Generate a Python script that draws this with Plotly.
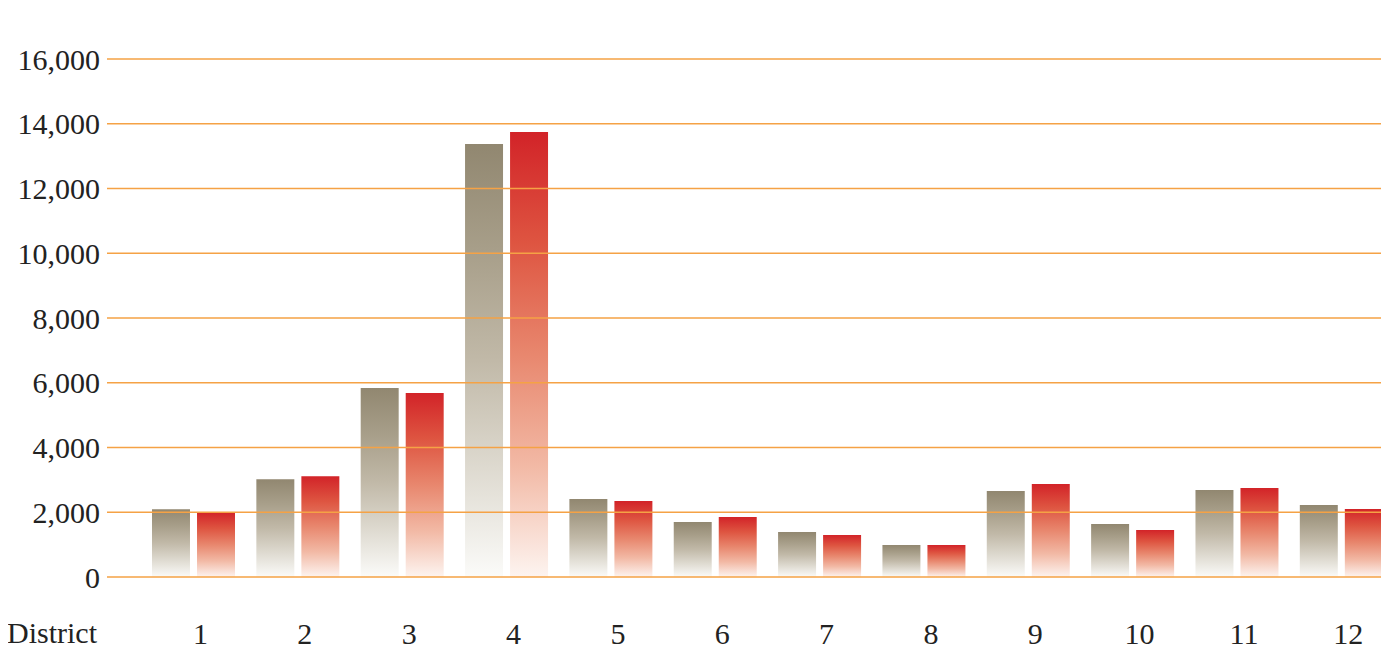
import plotly.graph_objects as go

districts = ["1", "2", "3", "4", "5", "6", "7", "8", "9", "10", "11", "12"]
series_a = [2095, 3020, 5840, 13375, 2410, 1700, 1390, 990, 2655, 1635, 2690, 2225]
series_b = [1995, 3115, 5685, 13745, 2345, 1855, 1300, 990, 2875, 1455, 2750, 2100]
y_ticks = [0, 2000, 4000, 6000, 8000, 10000, 12000, 14000, 16000]

scale_a = [[0, "rgb(251,251,249)"], [0.25, "rgb(222,218,208)"], [0.5, "rgb(193,185,168)"],
           [0.75, "rgb(168,159,138)"], [1, "rgb(145,135,112)"]]
scale_b = [[0, "rgb(253,244,240)"], [0.25, "rgb(242,185,165)"], [0.5, "rgb(232,135,110)"],
           [0.75, "rgb(222,85,65)"], [1, "rgb(210,35,40)"]]
grid_color = "#F5A245"
font_family = "Liberation Serif"

offset = 0.2157
half_w = 0.182

fig = go.Figure()

def add_bar(xc, val, cscale):
    xs = [xc - half_w, xc + half_w, xc + half_w, xc - half_w, xc - half_w]
    ys = [0, 0, val, val, 0]
    fig.add_trace(go.Scatter(
        x=xs, y=ys, mode="lines", fill="toself",
        line=dict(width=0, color=cscale[-1][1]),
        fillgradient=dict(type="vertical", start=0, stop=val, colorscale=cscale),
        hoverinfo="skip", showlegend=False,
    ))

for i, (a, b) in enumerate(zip(series_a, series_b)):
    add_bar(i - offset, a, scale_a)
    add_bar(i + offset, b, scale_b)

for t in y_ticks:
    fig.add_shape(type="line", xref="paper", yref="y", x0=0, x1=1, y0=t, y1=t,
                  line=dict(color=grid_color, width=1.5), layer="above")

fig.add_annotation(text="District", xref="paper", yref="paper", x=-7/1282, y=0,
                   xanchor="right", yanchor="middle", yshift=-47, showarrow=False,
                   font=dict(family=font_family, size=30, color="#222"))

fig.update_layout(
    width=1381, height=637,
    margin=dict(l=99, r=0, t=32, b=60),
    paper_bgcolor="white", plot_bgcolor="white",
    font=dict(family=font_family, size=30, color="#222"),
    xaxis=dict(range=[-0.829, 11.457], tickmode="array", tickvals=list(range(len(districts))),
               ticktext=districts, showgrid=False, zeroline=False, showline=False,
               ticks="", ticklabelstandoff=28, ticklabelshift=7, automargin=False,
               tickfont=dict(family=font_family, size=30, color="#222")),
    yaxis=dict(range=[-247, 16587], tickmode="array", tickvals=y_ticks,
               ticktext=[f"{v:,}" for v in y_ticks], showgrid=False, zeroline=False,
               showline=False, ticks="", ticklabelstandoff=6, automargin=False,
               tickfont=dict(family=font_family, size=30, color="#222")),
)

fig.write_html("out.html")
